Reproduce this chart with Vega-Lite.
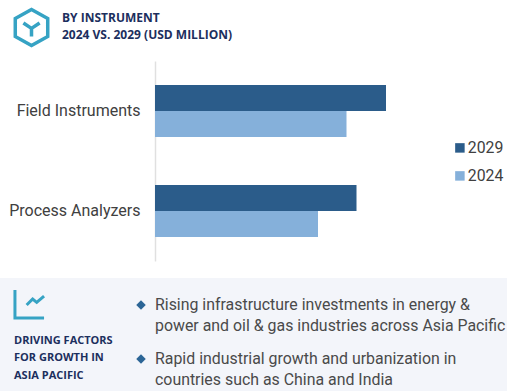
{
"$schema":"https://vega.github.io/schema/vega-lite/v6.json",
"padding":0,
"background":"white",
"spacing":8,
"config":{"view":{"stroke":null},"concat":{"spacing":8}},
"vconcat":[
{"width":519,"height":49,
 "data":{"values":[{"column":"icon","text":""},{"column":"title","text":["BY INSTRUMENT","2024 VS. 2029 (USD MILLION)"]}]},
 "encoding":{"x":{"field":"column","type":"nominal","scale":{"type":"point","domain":["icon","title"],"range":[31.5,62],"padding":0},"axis":null}},
 "layer":[
  {"transform":[{"filter":"datum.column==='icon'"}],
   "mark":{"type":"point","shape":"M0,-1 L0.9,-0.5 L0.9,0.5 L0,1 L-0.9,0.5 L-0.9,-0.5 Z M0,0.05 L0,0.5 M0,0.05 L-0.45,-0.25 M0,0.05 L0.45,-0.25","size":1300,"stroke":"#36a3c4","strokeWidth":3.5,"filled":false,"opacity":1,"yOffset":3}},
  {"transform":[{"filter":"datum.column==='title'"}],
   "mark":{"type":"text","align":"left","baseline":"middle","font":"Open Sans","fontWeight":"bold","fontSize":12,"lineHeight":17,"fill":"#1c2f5e","yOffset":-6.5},
   "encoding":{"text":{"field":"text"}}}
 ]},
{"width":519,"height":209,
 "data":{"values":[
  {"instrument":"Field Instruments","year":"2029","value":231},
  {"instrument":"Field Instruments","year":"2024","value":191.5},
  {"instrument":"Process Analyzers","year":"2029","value":201.5},
  {"instrument":"Process Analyzers","year":"2024","value":163}]},
 "mark":{"type":"bar"},
 "encoding":{
  "y":{"field":"instrument","type":"nominal","title":null,
   "scale":{"paddingInner":0.48,"paddingOuter":0.24,"range":[0,200]},
   "axis":{"offset":-155,"ticks":false,"domainColor":"#e0e0e0","domainWidth":1.5,"labelFont":"Roboto","labelFontSize":16,"labelColor":"#404040","labelPadding":15,"labelLimit":200}},
  "yOffset":{"field":"year","type":"nominal","sort":["2029","2024"],"scale":{"paddingInner":0,"paddingOuter":0}},
  "x":{"field":"value","type":"quantitative","axis":null,"scale":{"domain":[0,364],"range":[155,519]}},
  "color":{"field":"year","type":"nominal","sort":["2029","2024"],
   "scale":{"domain":["2029","2024"],"range":["#2b5c8a","#85b0da"]},
   "legend":{"title":null,"orient":"none","legendX":452,"legendY":140,"symbolType":"square","symbolSize":90,"symbolStrokeWidth":0,"labelFont":"Roboto","labelFontSize":15.8,"labelColor":"#404040","labelOffset":0,"rowPadding":11}}
 }},
{"width":507,"height":113,
 "view":{"fill":"#f3f5fa","stroke":null},
 "data":{"values":[
  {"column":"left","slot":"first","kind":"icon","text":""},
  {"column":"left","slot":"second","kind":"heading","text":["DRIVING FACTORS","FOR GROWTH IN","ASIA PACIFIC"]},
  {"column":"right","slot":"first","kind":"factor","text":["Rising infrastructure investments in energy &","power and oil & gas industries across Asia Pacific"]},
  {"column":"right","slot":"second","kind":"factor","text":["Rapid industrial growth and urbanization in","countries such as China and India"]}]},
 "encoding":{
  "x":{"field":"column","type":"nominal","scale":{"type":"point","domain":["left","right"],"range":[14,155],"padding":0},"axis":null},
  "y":{"field":"slot","type":"nominal","scale":{"type":"point","domain":["first","second"],"range":[27,81],"padding":0},"axis":null}},
 "layer":[
  {"transform":[{"filter":"datum.kind==='icon'"}],
   "mark":{"type":"point","shape":"M-0.97,-0.93 L-0.97,0.93 L0.97,0.93 M-0.19,0.07 L0.21,-0.33 L0.48,-0.11 L0.97,-0.53","size":900,"stroke":"#36a3c4","strokeWidth":3,"filled":false,"opacity":1,"xOffset":15.5,"yOffset":-1}},
  {"transform":[{"filter":"datum.kind==='heading'"}],
   "mark":{"type":"text","align":"left","baseline":"middle","font":"Open Sans","fontWeight":"bold","fontSize":11,"lineHeight":17.3,"fill":"#1c2f5e","yOffset":-18},
   "encoding":{"text":{"field":"text"}}},
  {"transform":[{"filter":"datum.kind==='factor'"}],
   "mark":{"type":"point","shape":"diamond","size":90,"filled":true,"fill":"#2b6596","opacity":1,"xOffset":-14}},
  {"transform":[{"filter":"datum.kind==='factor'"}],
   "mark":{"type":"text","align":"left","baseline":"middle","font":"Roboto","fontSize":15.9,"lineHeight":21,"fill":"#4a4a4a"},
   "encoding":{"text":{"field":"text"}}}
 ]}
]
}
